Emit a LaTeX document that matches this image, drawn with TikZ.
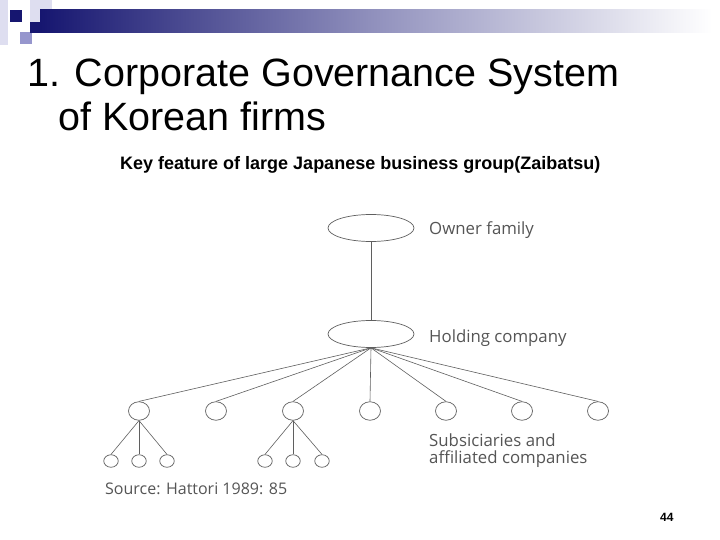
\documentclass[tikz,border=0pt]{standalone}
\usepackage{fontspec}
\setmainfont{Liberation Sans}
\newfontfamily\figfont{Open Sans}
\usetikzlibrary{shapes.geometric}
\definecolor{navy}{RGB}{22,22,112}
\definecolor{lav}{RGB}{150,150,205}
\definecolor{lavlight}{RGB}{222,222,240}
\definecolor{figgray}{RGB}{85,85,85}
\definecolor{linegray}{RGB}{95,95,95}
\tikzset{
  bigoval/.style={ellipse, draw=linegray, line width=0.7pt, minimum width=86pt, minimum height=27pt, inner sep=0pt},
  subco/.style={ellipse, draw=linegray, line width=0.7pt, minimum width=21pt, minimum height=18.5pt, inner sep=0pt},
  smallco/.style={ellipse, draw=linegray, line width=0.7pt, minimum width=14.5pt, minimum height=12.5pt, inner sep=0pt},
  link/.style={draw=linegray, line width=0.6pt},
  figlabel/.style={anchor=base west, inner sep=0pt, text=figgray, font=\figfont\fontsize{16.8}{19}\selectfont},
  titletext/.style={anchor=base west, inner sep=0pt, font=\fontsize{39.5}{46}\selectfont},
}
\begin{document}
\begin{tikzpicture}[x=1pt,y=-1pt]
\useasboundingbox (0,0) rectangle (720,540);
\fill[white] (0,0) rectangle (720,540);
% header decoration
\fill[lavlight] (0,0) rectangle (8,45);
\fill[lavlight] (30,0) rectangle (52,22);
\fill[lav] (20,32) rectangle (32,44);
\fill[lav!70] (30,22) rectangle (42,32);
\fill[navy] (10,10) rectangle (22,22);
\shade[left color=navy, right color=white, middle color=lav!80!gray] (40,10) rectangle (712,33);
\fill[navy] (30,22) -- (42,22) -- (42,33) -- (30,33) -- cycle;
% title
\node[titletext] (t1) at (27,87) {1. Corporate Governance System};
\node[titletext] (t2) at (58,131) {of Korean firms};
\node[anchor=base west, inner sep=0pt, font=\bfseries\fontsize{18}{21}\selectfont] (sub) at (120,170) {Key feature of large Japanese business group(Zaibatsu)};
% diagram
\node[bigoval] (of) at (371,228) {};
\node[bigoval] (hc) at (371,334) {};
\draw[link] (of.south) -- (hc.north);
\node[figlabel] (ofl) at (429,234) {Owner family};
\node[figlabel] (hcl) at (429,342) {Holding company};
\foreach \i/\x in {1/139,2/216,3/293,4/370,5/446,6/522,7/598}{
  \node[subco] (s\i) at (\x,411) {};
  \draw[link] (hc.south) -- (s\i.north);
}
\foreach \i/\x in {1/111,2/139,3/167}{
  \node[smallco] (a\i) at (\x,461) {};
  \draw[link] (s1.south) -- (a\i.north);
}
\foreach \i/\x in {1/265,2/293,3/322}{
  \node[smallco] (b\i) at (\x,461) {};
  \draw[link] (s3.south) -- (b\i.north);
}
\node[figlabel] (subl1) at (429,446) {Subsiciaries and};
\node[figlabel] (subl2) at (429,463) {affiliated companies};
\node[figlabel, font=\figfont\fontsize{16}{19}\selectfont] (src) at (105,494) {Source: Hattori 1989: 85};
\node[anchor=base west, inner sep=0pt, font=\bfseries\fontsize{12}{14}\selectfont] (pg) at (660,521) {44};
\end{tikzpicture}
\end{document}
